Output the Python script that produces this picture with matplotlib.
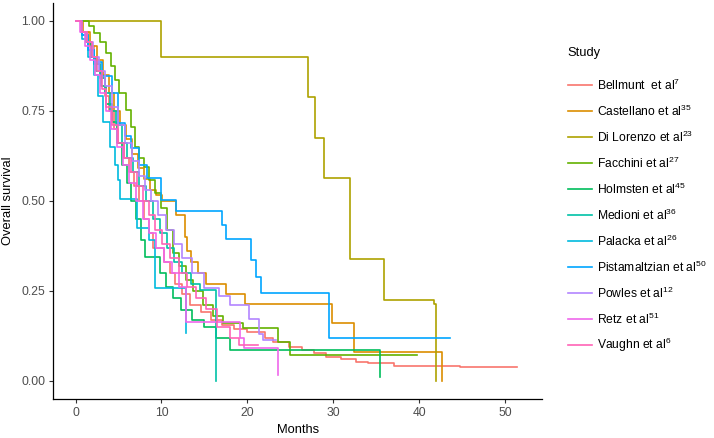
import matplotlib
matplotlib.use("Agg")
import matplotlib.pyplot as plt
from matplotlib.lines import Line2D

plt.rcParams['font.family'] = ['Liberation Sans', 'DejaVu Sans']
plt.rcParams['mathtext.fontset'] = 'custom'
plt.rcParams['mathtext.rm'] = 'Liberation Sans'
plt.rcParams['mathtext.it'] = 'Liberation Sans:italic'

# Kaplan-Meier curves (months, survival after the step)
bellmunt_t = [0, 0.8, 1.5, 2.2, 2.8, 3.4, 3.9, 4.5, 5.0, 5.6, 6.2, 6.8, 7.4, 8.0, 8.6, 9.0, 10.3, 11.0, 11.6, 12.4,
              13.3, 14.6, 15.8, 17.0, 18.4, 20.0, 22.0, 23.0, 24.9, 26.4, 27.8, 29.1, 30.9, 32.6, 34.0, 37.1, 44.7, 51.4]
bellmunt_s = [1.0, 0.97, 0.93, 0.88, 0.84, 0.79, 0.75, 0.70, 0.66, 0.62, 0.58, 0.54, 0.50, 0.45, 0.41, 0.368, 0.33, 0.30, 0.27, 0.24,
              0.21, 0.19, 0.17, 0.155, 0.145, 0.135, 0.12, 0.108, 0.094, 0.085, 0.078, 0.065, 0.060, 0.053, 0.048, 0.042, 0.037, 0.037]

castellano_t = [0, 0.9, 1.7, 2.5, 3.2, 3.9, 4.5, 5.2, 5.9, 6.6, 7.3, 8.0, 8.7, 9.4, 10.1, 11.7, 12.7, 13.0, 13.4, 14.2,
                15.2, 17.5, 19.7, 29.8, 32.4, 42.7]
castellano_s = [1.0, 0.97, 0.93, 0.89, 0.85, 0.80, 0.75, 0.71, 0.67, 0.63, 0.59, 0.56, 0.53, 0.515, 0.50, 0.46, 0.40, 0.36, 0.33, 0.30,
                0.27, 0.24, 0.213, 0.161, 0.081, 0.0]

dilorenzo_t = [0, 10.0, 27.0, 27.9, 28.9, 31.9, 35.9, 41.7, 42.0]
dilorenzo_s = [1.0, 0.9, 0.787, 0.674, 0.562, 0.337, 0.225, 0.214, 0.0]

facchini_t = [0, 1.6, 2.2, 2.8, 3.5, 4.1, 4.6, 5.1, 5.9, 6.5, 6.9, 7.4, 8.0, 8.6, 9.2, 10.0, 10.6, 11.3, 12.0, 12.9,
              13.7, 14.8, 16.0, 17.2, 19.5, 23.6, 25.0, 39.7]
facchini_s = [1.0, 0.985, 0.965, 0.94, 0.91, 0.875, 0.835, 0.80, 0.752, 0.706, 0.65, 0.62, 0.594, 0.557, 0.52, 0.48, 0.42, 0.354, 0.32, 0.28,
              0.25, 0.21, 0.18, 0.16, 0.146, 0.108, 0.072, 0.072]

holmsten_t = [0, 0.6, 1.2, 1.8, 2.4, 3.0, 3.6, 4.2, 4.8, 5.4, 6.0, 6.5, 7.0, 7.6, 8.1, 9.8, 10.5, 11.4, 12.3, 13.6,
              15.0, 16.4, 18.0, 35.4]
holmsten_s = [1.0, 0.97, 0.94, 0.90, 0.86, 0.82, 0.77, 0.72, 0.66, 0.60, 0.55, 0.50, 0.45, 0.39, 0.344, 0.30, 0.26, 0.23, 0.196, 0.17,
              0.15, 0.12, 0.085, 0.011]

medioni_t = [0, 0.7, 1.4, 2.1, 2.8, 3.4, 4.0, 4.7, 5.4, 6.0, 6.7, 7.4, 8.2, 9.0, 9.8, 10.6, 11.5, 12.4, 13.4, 14.5, 16.3]
medioni_s = [1.0, 0.96, 0.92, 0.88, 0.84, 0.80, 0.75, 0.71, 0.66, 0.62, 0.58, 0.54, 0.50, 0.45, 0.41, 0.37, 0.33, 0.30, 0.27, 0.252, 0.0]

palacka_t = [0, 0.8, 1.5, 2.2, 2.6, 3.2, 4.0, 4.6, 5.0, 5.2, 7.2, 8.6, 9.3, 12.9]
palacka_s = [1.0, 0.95, 0.90, 0.85, 0.79, 0.72, 0.65, 0.60, 0.557, 0.506, 0.423, 0.39, 0.257, 0.132]

pistamaltzian_t = [0, 0.8, 1.5, 2.2, 3.1, 4.2, 4.9, 5.8, 6.5, 7.4, 8.3, 10.0, 11.7, 17.1, 17.5, 20.4, 21.0, 21.6, 29.5, 43.6]
pistamaltzian_s = [1.0, 0.96, 0.92, 0.885, 0.846, 0.80, 0.715, 0.68, 0.645, 0.60, 0.562, 0.502, 0.472, 0.432, 0.394, 0.335, 0.289, 0.243, 0.118, 0.118]

powles_t = [0, 0.6, 1.3, 2.0, 2.7, 3.4, 4.2, 5.0, 5.8, 6.6, 7.4, 8.1, 8.8, 9.6, 10.5, 11.5, 12.4, 13.5, 15.0, 16.7,
            18.0, 20.2, 21.4, 21.8, 23.3]
powles_s = [1.0, 0.97, 0.94, 0.90, 0.86, 0.82, 0.76, 0.71, 0.66, 0.61, 0.57, 0.53, 0.50, 0.46, 0.42, 0.38, 0.34, 0.30, 0.257, 0.236,
            0.21, 0.171, 0.131, 0.113, 0.113]

retz_t = [0, 0.5, 1.1, 1.7, 2.3, 2.9, 3.5, 4.1, 4.8, 5.5, 6.2, 7.0, 7.8, 8.6, 9.4, 10.3, 11.2, 12.1, 12.9, 19.1, 19.6, 23.6]
retz_s = [1.0, 0.97, 0.93, 0.89, 0.85, 0.80, 0.75, 0.70, 0.65, 0.60, 0.55, 0.50, 0.45, 0.41, 0.37, 0.33, 0.30, 0.26, 0.164, 0.12, 0.09, 0.015]

vaughn_t = [0, 0.7, 1.3, 1.9, 2.5, 3.1, 3.6, 4.3, 5.0, 5.7, 6.4, 7.1, 7.8, 8.5, 9.3, 10.1, 11.0, 12.0, 13.0, 14.0,
            15.2, 16.5, 18.0, 19.0, 21.2]
vaughn_s = [1.0, 0.97, 0.94, 0.90, 0.86, 0.81, 0.76, 0.71, 0.66, 0.62, 0.58, 0.54, 0.50, 0.46, 0.42, 0.38, 0.34, 0.30, 0.26, 0.23,
            0.20, 0.15, 0.12, 0.099, 0.099]

study_labels = ["Bellmunt  et al$^{7}$", "Castellano et al$^{35}$", "Di Lorenzo et al$^{23}$", "Facchini et al$^{27}$",
                "Holmsten et al$^{45}$", "Medioni et al$^{36}$", "Palacka et al$^{26}$", "Pistamaltzian et al$^{50}$",
                "Powles et al$^{12}$", "Retz et al$^{51}$", "Vaughn et al$^{6}$"]
curves = [(bellmunt_t, bellmunt_s), (castellano_t, castellano_s), (dilorenzo_t, dilorenzo_s),
          (facchini_t, facchini_s), (holmsten_t, holmsten_s), (medioni_t, medioni_s),
          (palacka_t, palacka_s), (pistamaltzian_t, pistamaltzian_s), (powles_t, powles_s),
          (retz_t, retz_s), (vaughn_t, vaughn_s)]
# ggplot2 default hue palette for 11 groups
colors = ["#F8766D", "#DB8E00", "#AEA200", "#64B200", "#00BD5C", "#00C1A7",
          "#00BADE", "#00A6FF", "#B385FF", "#EF67EB", "#FF63B6"]

W, H = 714, 438
fig = plt.figure(figsize=(W / 100, H / 100), dpi=100)
left, right, top, bottom = 53.3, 542, 2.7, 398.7
ax = fig.add_axes([left / W, 1 - bottom / H, (right - left) / W, (bottom - top) / H])

for (t, s), c in zip(curves, colors):
    ax.step(t, s, where='post', color=c, linewidth=1.2)

ax.set_xlim(-2.585, 54.285)
ax.set_ylim(-0.05, 1.05)
ax.set_xticks([0, 10, 20, 30, 40, 50])
ax.set_yticks([0, 0.25, 0.5, 0.75, 1.0])
ax.set_yticklabels(["0.00", "0.25", "0.50", "0.75", "1.00"])
for side in ['top', 'right']:
    ax.spines[side].set_visible(False)
for side in ['left', 'bottom']:
    ax.spines[side].set_linewidth(0.9)
    ax.spines[side].set_color('black')
ax.tick_params(length=3.2, width=0.8, color='#333333', labelcolor='#4D4D4D', labelsize=8.7, pad=2.5)

ax.set_xlabel("Months", fontsize=9.3, labelpad=4)
ax.set_ylabel("Overall survival", fontsize=9.3, labelpad=5)

# legend drawn by hand in pixel positions
def fx(px):
    return px / W

def fy(py):
    return 1 - py / H

fig.text(fx(567), fy(53), "Study", fontsize=9.3, va='center', ha='left')
for i, (lab, c) in enumerate(zip(study_labels, colors)):
    yy = 85 + 26 * i
    fig.add_artist(Line2D([fx(568), fx(592)], [fy(yy), fy(yy)], color=c, linewidth=1.2))
    fig.text(fx(597), fy(yy), lab, fontsize=8.7, va='center', ha='left')

fig.savefig("out.png", dpi=100)
